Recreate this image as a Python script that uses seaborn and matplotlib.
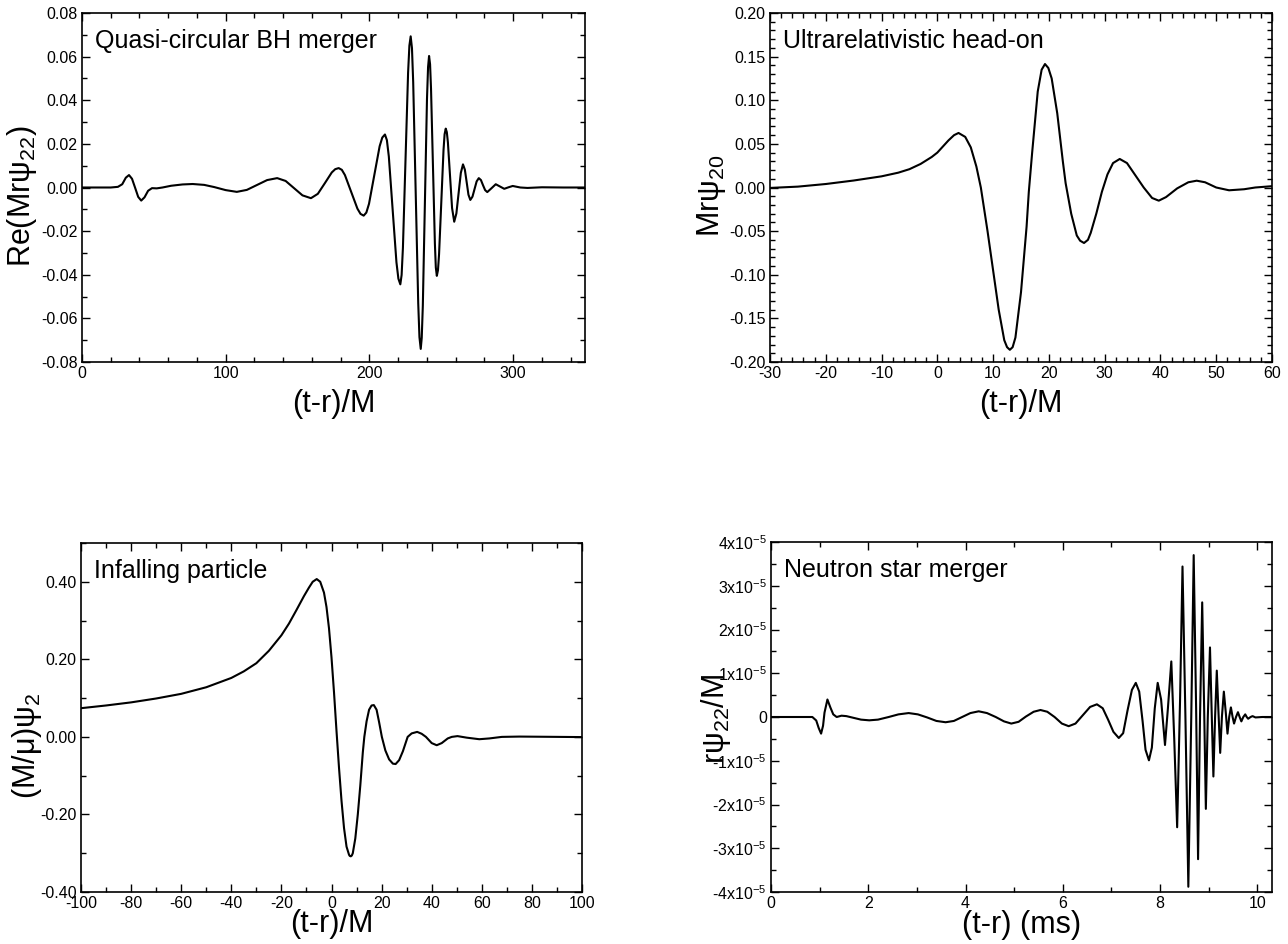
import matplotlib
matplotlib.use("Agg")
import matplotlib.pyplot as plt
import seaborn as sns
import pandas as pd
from matplotlib.ticker import FixedLocator, FixedFormatter, MultipleLocator

# ---------------- data ----------------
# Panel 1: Quasi-circular BH merger, Re(M r psi22) vs (t-r)/M
bh_t = [0, 20, 25, 28, 30.5, 32.7, 34.8, 37.0, 39.1, 41.2, 43.5, 46, 48.7, 52, 56, 62, 70, 77,
        85, 92, 100, 107.7, 114.7, 121.75, 128.8, 135.8, 141.7, 147.55, 153.4, 159.3, 164.1, 169,
        173.8, 176.2, 178.6, 180.8, 182.95, 187.3, 191.65, 193.8, 196.0, 197.85, 199.7, 203.4,
        207.1, 208.95, 210.8, 212.15, 213.5, 216.15, 218.8, 220.15, 221.5, 222.4, 223.3, 225.1,
        226.9, 227.8, 228.7, 229.6, 230.45, 232.2, 233.95, 234.8, 235.7, 236.4, 237.15, 238.6,
        240.05, 240.8, 241.5, 242.2, 242.85, 244.2, 245.55, 246.2, 246.9, 247.7, 248.45, 250.0,
        251.55, 252.3, 253.1, 253.85, 254.6, 256.05, 257.5, 259.0, 260.5, 262.05, 263.6, 265.1,
        266.4, 267.65, 268.9, 270.2, 271.7, 273.15, 274.6, 276.1, 277.6, 279.0, 280.5, 282.0,
        285, 287.9, 291, 293.8, 296.8, 299.7, 305, 310, 320, 335, 350]
bh_re = [0, 0, 0.0003, 0.0015, 0.0045, 0.0057, 0.0040, -0.0002, -0.0043, -0.0060, -0.0045,
         -0.0015, -0.0003, -0.0004, 0.0, 0.0008, 0.0014, 0.0016, 0.0012, 0.0002, -0.0012, -0.0020,
         -0.0011, 0.00115, 0.0034, 0.0043, 0.0030, -0.0003, -0.0036, -0.0049, -0.0029, 0.0020,
         0.0069, 0.0084, 0.0089, 0.0081, 0.0057, -0.0020, -0.0097, -0.0121, -0.0129, -0.0115,
         -0.0075, 0.0057, 0.0189, 0.0229, 0.0243, 0.0217, 0.0142, -0.0101, -0.0343, -0.0418,
         -0.0444, -0.0401, -0.0277, 0.0125, 0.0526, 0.0650, 0.0693, 0.0639, 0.0483, -0.0024,
         -0.0530, -0.0686, -0.0740, -0.0689, -0.0543, -0.0069, 0.0406, 0.0552, 0.0603, 0.0565,
         0.0455, 0.0099, -0.0257, -0.0367, -0.0405, -0.0379, -0.0306, -0.0068, 0.0171, 0.0244,
         0.0270, 0.0254, 0.0207, 0.0057, -0.0094, -0.0157, -0.0119, -0.0026, 0.0067, 0.0106,
         0.0082, 0.0025, -0.0033, -0.0057, -0.0042, -0.0007, 0.0028, 0.0043, 0.0034, 0.0011,
         -0.0012, -0.0021, -0.0003, 0.0015, 0.0004, -0.0006, 0.0001, 0.0007, 0.0, -0.0002,
         0.0001, 0.0, 0.0]

# Panel 2: Ultrarelativistic head-on, M r psi20 vs (t-r)/M
ho_t = [-30, -25, -20, -15, -10, -7, -5, -3, -1, 0, 1, 2, 3, 3.8, 5, 6, 7, 7.8, 9, 10, 11, 12,
        12.5, 13, 13.5, 14, 15, 16, 16.4, 17, 18, 18.7, 19.3, 19.9, 20.5, 21.5, 22.5, 23, 24, 25,
        25.6, 26.3, 27, 27.5, 28.5, 29.5, 30.5, 31.5, 32.7, 34, 35.5, 37, 38.5, 39.7, 41, 43, 45,
        46.5, 48, 50, 52.3, 55, 57, 60]
ho_psi = [-0.0005, 0.001, 0.004, 0.008, 0.0128, 0.017, 0.021, 0.027, 0.035, 0.040, 0.047, 0.054,
          0.060, 0.0625, 0.058, 0.046, 0.024, 0.0, -0.050, -0.095, -0.140, -0.175, -0.183,
          -0.186, -0.183, -0.172, -0.120, -0.045, -0.005, 0.040, 0.110, 0.135, 0.1415, 0.137,
          0.125, 0.085, 0.030, 0.005, -0.030, -0.055, -0.061, -0.0636, -0.060, -0.052, -0.030,
          -0.005, 0.015, 0.028, 0.0327, 0.028, 0.014, 0.0, -0.012, -0.0151, -0.011, -0.001,
          0.006, 0.0078, 0.006, 0.0, -0.0032, -0.002, 0.0, 0.0015]

# Panel 3: Infalling particle, (M/mu) psi2 vs (t-r)/M
ip_t = [-100, -90, -80, -70, -60, -50, -40, -35, -30, -25, -20, -17, -14, -11, -9, -7.5, -5.9,
        -4.5, -3, -2, -1, 0, 1, 2, 3, 4, 5, 6, 7, 7.3, 7.7, 8.1, 8.5, 9.5, 10.5, 11.5, 12.5, 13.1,
        14, 15, 16, 16.9, 18, 19, 20.1, 21.5, 23, 24.5, 25.6, 27, 28.5, 30.4, 32, 34.2, 36, 37.7,
        40, 42, 44, 46.4, 48, 50.3, 54, 59, 63, 68, 75, 85, 100]
ip_psi = [0.074, 0.081, 0.089, 0.099, 0.111, 0.128, 0.152, 0.169, 0.190, 0.222, 0.262, 0.292,
          0.327, 0.363, 0.385, 0.400, 0.407, 0.400, 0.372, 0.335, 0.280, 0.205, 0.115, 0.015,
          -0.080, -0.165, -0.235, -0.283, -0.304, -0.307, -0.308, -0.306, -0.300, -0.262, -0.200,
          -0.125, -0.040, 0.0, 0.040, 0.070, 0.081, 0.082, 0.070, 0.038, 0.0, -0.035, -0.058,
          -0.069, -0.070, -0.060, -0.037, 0.0, 0.009, 0.0129, 0.008, 0.0, -0.016, -0.0215, -0.016,
          -0.004, 0.0, 0.002, -0.002, -0.006, -0.004, 0.0, 0.0008, 0.0003, -0.0005]

# Panel 4: Neutron star merger, r psi22 / M (in units of 1e-5) vs (t-r) in ms
ns_t = [0, 0.85, 0.93, 0.98, 1.03, 1.07, 1.10, 1.16, 1.22, 1.28, 1.35, 1.45, 1.55, 1.7, 1.85,
        2.02, 2.2, 2.42, 2.62, 2.83, 3.02, 3.21, 3.40, 3.59, 3.76, 3.93, 4.10, 4.27, 4.44, 4.62,
        4.79, 4.94, 5.09, 5.24, 5.40, 5.54, 5.68, 5.83, 5.98, 6.12, 6.26, 6.41, 6.56, 6.70, 6.82,
        6.93, 7.04, 7.15, 7.24, 7.33, 7.42, 7.50, 7.57, 7.64, 7.70, 7.77, 7.83, 7.89, 7.95, 8.02,
        8.10, 8.16, 8.23, 8.29, 8.35, 8.41, 8.46, 8.52, 8.58, 8.64, 8.69, 8.74, 8.78, 8.82, 8.865,
        8.905, 8.94, 8.98, 9.025, 9.06, 9.095, 9.13, 9.165, 9.20, 9.235, 9.27, 9.31, 9.35, 9.385,
        9.42, 9.455, 9.49, 9.52, 9.56, 9.60, 9.635, 9.67, 9.71, 9.75, 9.78, 9.81, 9.86, 9.90, 9.96,
        10.1, 10.3]
ns_psi = [0, 0, -0.08, -0.25, -0.38, -0.20, 0.10, 0.40, 0.22, 0.06, 0.0, 0.03, 0.02, -0.02,
          -0.06, -0.076, -0.06, 0.0, 0.06, 0.09, 0.06, -0.01, -0.09, -0.12, -0.09, 0.0, 0.09,
          0.13, 0.09, 0.0, -0.10, -0.15, -0.11, 0.01, 0.12, 0.16, 0.12, 0.0, -0.15, -0.21, -0.15,
          0.04, 0.23, 0.29, 0.20, -0.06, -0.34, -0.48, -0.37, 0.15, 0.62, 0.78, 0.58, -0.10,
          -0.75, -0.99, -0.70, 0.20, 0.78, 0.40, -0.64, 0.20, 1.27, -0.50, -2.52, 0.40, 3.44, 0.0,
          -3.88, 0.0, 3.70, 0.2, -3.25, 0.0, 2.62, 0.2, -2.10, 0.0, 1.59, 0.1, -1.36, 0.0, 1.06,
          0.1, -0.82, 0.0, 0.58, 0.1, -0.38, 0.0, 0.22, 0.0, -0.15, 0.0, 0.11, 0.0, -0.10, 0.0,
          0.06, 0.0, -0.04, 0.0, 0.02, -0.01, 0.0, 0.0]

# tick positions / labels
bh_xticks = [0, 100, 200, 300]
bh_xlabels = ["0", "100", "200", "300"]
bh_yticks = [-0.08, -0.06, -0.04, -0.02, 0.0, 0.02, 0.04, 0.06, 0.08]
bh_ylabels = ["-0.08", "-0.06", "-0.04", "-0.02", "0.00", "0.02", "0.04", "0.06", "0.08"]

ho_xticks = [-30, -20, -10, 0, 10, 20, 30, 40, 50, 60]
ho_xlabels = ["-30", "-20", "-10", "0", "10", "20", "30", "40", "50", "60"]
ho_yticks = [-0.20, -0.15, -0.10, -0.05, 0.0, 0.05, 0.10, 0.15, 0.20]
ho_ylabels = ["-0.20", "-0.15", "-0.10", "-0.05", "0.00", "0.05", "0.10", "0.15", "0.20"]

ip_xticks = [-100, -80, -60, -40, -20, 0, 20, 40, 60, 80, 100]
ip_xlabels = ["-100", "-80", "-60", "-40", "-20", "0", "20", "40", "60", "80", "100"]
ip_yticks = [-0.40, -0.20, 0.0, 0.20, 0.40]
ip_ylabels = ["-0.40", "-0.20", "0.00", "0.20", "0.40"]

ns_xticks = [0, 2, 4, 6, 8, 10]
ns_xlabels = ["0", "2", "4", "6", "8", "10"]
ns_yticks = [-4, -3, -2, -1, 0, 1, 2, 3, 4]
ns_ylabels = ["-4x10$^{-5}$", "-3x10$^{-5}$", "-2x10$^{-5}$", "-1x10$^{-5}$", "0",
              "1x10$^{-5}$", "2x10$^{-5}$", "3x10$^{-5}$", "4x10$^{-5}$"]

titles = ["Quasi-circular BH merger", "Ultrarelativistic head-on",
          "Infalling particle", "Neutron star merger"]

# ---------------- style ----------------
sns.set_theme(style="ticks")
plt.rcParams["font.family"] = ["Liberation Sans", "DejaVu Sans"]
plt.rcParams["mathtext.fontset"] = "custom"
plt.rcParams["mathtext.rm"] = "Liberation Sans"
plt.rcParams["mathtext.it"] = "Liberation Sans:italic"
plt.rcParams["mathtext.default"] = "regular"
plt.rcParams["text.color"] = "black"
plt.rcParams["axes.labelcolor"] = "black"
plt.rcParams["xtick.color"] = "black"
plt.rcParams["ytick.color"] = "black"
plt.rcParams["axes.edgecolor"] = "black"

W, H = 1288, 944
fig = plt.figure(figsize=(W / 100, H / 100), dpi=100)
fig.patch.set_facecolor("white")


def add_ax(l, r, t, b):
    return fig.add_axes([l / W, 1 - b / H, (r - l) / W, (b - t) / H])


panels = [
    dict(box=(82, 585, 13, 362), t=bh_t, y=bh_re, xlim=(0, 350), ylim=(-0.08, 0.08),
         xt=bh_xticks, xl=bh_xlabels, yt=bh_yticks, yl=bh_ylabels, xmin=20, ymin=0.01,
         xlabel="(t-r)/M", ylabel="Re(Mrψ$_{22}$)", ylc=(-0.104, 0.476), xly=-0.076),
    dict(box=(770, 1272, 13, 362), t=ho_t, y=ho_psi, xlim=(-30, 60), ylim=(-0.2, 0.2),
         xt=ho_xticks, xl=ho_xlabels, yt=ho_yticks, yl=ho_ylabels, xmin=2, ymin=0.01,
         xlabel="(t-r)/M", ylabel="Mrψ$_{20}$", ylc=(-0.102, 0.476), xly=-0.076),
    dict(box=(81, 582, 543, 892), t=ip_t, y=ip_psi, xlim=(-100, 100), ylim=(-0.4, 0.5),
         xt=ip_xticks, xl=ip_xlabels, yt=ip_yticks, yl=ip_ylabels, xmin=10, ymin=0.1,
         xlabel="(t-r)/M", ylabel="(M/μ)ψ$_2$", ylc=(-0.092, 0.419), xly=-0.05),
    dict(box=(771, 1272, 542, 892), t=ns_t, y=ns_psi, xlim=(0, 10.3), ylim=(-4, 4),
         xt=ns_xticks, xl=ns_xlabels, yt=ns_yticks, yl=ns_ylabels, xmin=1, ymin=0.5,
         xlabel="(t-r) (ms)", ylabel="rψ$_{22}$/M", ylc=(-0.094, 0.494), xly=-0.05),
]

for p, title in zip(panels, titles):
    ax = add_ax(*p["box"])
    df = pd.DataFrame({"t": p["t"], "v": p["y"]})
    sns.lineplot(data=df, x="t", y="v", ax=ax, color="black", linewidth=1.5,
                 estimator=None, sort=False)
    ax.set_xlim(*p["xlim"])
    ax.set_ylim(*p["ylim"])
    ax.xaxis.set_major_locator(FixedLocator(p["xt"]))
    ax.xaxis.set_major_formatter(FixedFormatter(p["xl"]))
    ax.yaxis.set_major_locator(FixedLocator(p["yt"]))
    ax.yaxis.set_major_formatter(FixedFormatter(p["yl"]))
    ax.xaxis.set_minor_locator(MultipleLocator(p["xmin"]))
    ax.yaxis.set_minor_locator(MultipleLocator(p["ymin"]))
    ax.tick_params(which="both", direction="in", top=True, right=True, colors="black",
                   labelsize=11.5, width=1.0)
    ax.tick_params(which="major", length=6, pad=3)
    ax.tick_params(which="minor", length=3.5)
    for s in ax.spines.values():
        s.set_linewidth(1.2)
        s.set_color("black")
    ax.set_xlabel(p["xlabel"], fontsize=22, va="top", color="black")
    ax.xaxis.set_label_coords(0.5, p["xly"])
    ax.set_ylabel(p["ylabel"], fontsize=22, va="baseline", ha="center", color="black")
    ax.yaxis.set_label_coords(*p["ylc"])
    ax.text(0.025, 0.90, title, transform=ax.transAxes, fontsize=18, ha="left",
            va="baseline", color="black")

fig.savefig("out.png", dpi=100, facecolor="white")
